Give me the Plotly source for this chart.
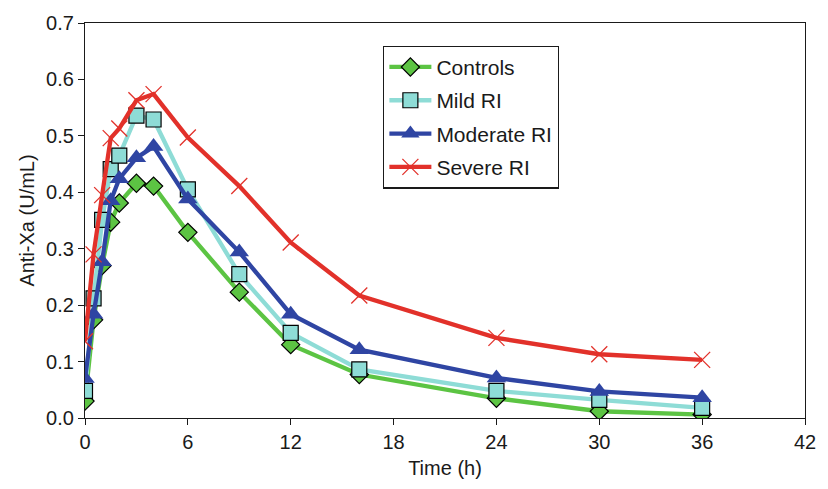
import plotly.graph_objects as go

time_h = [0, 0.5, 1, 1.5, 2, 3, 4, 6, 9, 12, 16, 24, 30, 36]
controls = [0.030, 0.174, 0.270, 0.347, 0.381, 0.416, 0.411, 0.329, 0.223, 0.130, 0.077, 0.035, 0.012, 0.006]
mild_ri = [0.048, 0.212, 0.351, 0.441, 0.465, 0.536, 0.529, 0.405, 0.255, 0.151, 0.086, 0.048, 0.032, 0.018]
moderate_ri = [0.070, 0.184, 0.277, 0.385, 0.424, 0.461, 0.481, 0.388, 0.294, 0.184, 0.121, 0.071, 0.047, 0.036]
severe_ri = [0.136, 0.290, 0.395, 0.496, 0.513, 0.563, 0.574, 0.497, 0.411, 0.311, 0.217, 0.142, 0.113, 0.103]

x_ticks = [0, 6, 12, 18, 24, 30, 36, 42]
y_ticks = [0.0, 0.1, 0.2, 0.3, 0.4, 0.5, 0.6, 0.7]

FONT = "Liberation Sans, Arial, Helvetica, sans-serif"

fig = go.Figure()
fig.add_trace(go.Scatter(
    x=time_h, y=controls, name="Controls", mode="lines+markers", legendgroup="a",
    line=dict(color="#5cc443", width=4.3),
    marker=dict(symbol="diamond", size=14, color="#5cc443",
                line=dict(color="black", width=1.2)),
))
fig.add_trace(go.Scatter(
    x=time_h, y=mild_ri, name="Mild RI", mode="lines+markers", legendgroup="b",
    line=dict(color="#8edcd6", width=4.3),
    marker=dict(symbol="square", size=15, color="#8edcd6",
                line=dict(color="black", width=1.2)),
))
fig.add_trace(go.Scatter(
    x=time_h, y=moderate_ri, name="Moderate RI", mode="lines+markers", legendgroup="c",
    line=dict(color="#2f45a3", width=4.3),
    marker=dict(symbol="triangle-up", size=17, color="#2f45a3",
                line=dict(width=0)),
))
fig.add_trace(go.Scatter(
    x=time_h, y=severe_ri, name="Severe RI", mode="lines+markers", legendgroup="d",
    line=dict(color="#e2312a", width=4.3),
    marker=dict(symbol="x-thin-open", size=16, color="#e2312a",
                line=dict(color="#e2312a", width=1.3)),
))

fig.update_layout(
    width=828, height=489,
    margin=dict(l=85, r=15, t=15, b=71),
    paper_bgcolor="white", plot_bgcolor="white",
    font=dict(family=FONT, size=20, color="#1a1a1a"),
    legend=dict(
        x=0.414, y=0.943, xanchor="left", yanchor="top",
        bordercolor="#1a1a1a", borderwidth=1.3, bgcolor="white",
        font=dict(family=FONT, size=21, color="#1a1a1a"),
        traceorder="grouped", tracegroupgap=3, itemwidth=42,
    ),
    showlegend=True,
)
fig.update_xaxes(
    range=[0, 42], tickvals=x_ticks, ticktext=[str(v) for v in x_ticks],
    showgrid=False, zeroline=False,
    showline=True, linecolor="#1a1a1a", linewidth=1.3, mirror=True,
    ticks="outside", ticklen=6, tickcolor="#1a1a1a",
    title=dict(text="Time (h)", font=dict(family=FONT, size=20), standoff=8),
    tickfont=dict(family=FONT, size=20),
)
fig.update_yaxes(
    range=[0, 0.7], tickvals=y_ticks, ticktext=[f"{v:.1f}" for v in y_ticks],
    showgrid=False, zeroline=False,
    showline=True, linecolor="#1a1a1a", linewidth=1.3, mirror=True,
    ticks="outside", ticklen=6, tickcolor="#1a1a1a",
    title=dict(text="Anti-Xa (U/mL)", font=dict(family=FONT, size=20), standoff=6),
    tickfont=dict(family=FONT, size=20),
)

fig.write_html("out.html")
